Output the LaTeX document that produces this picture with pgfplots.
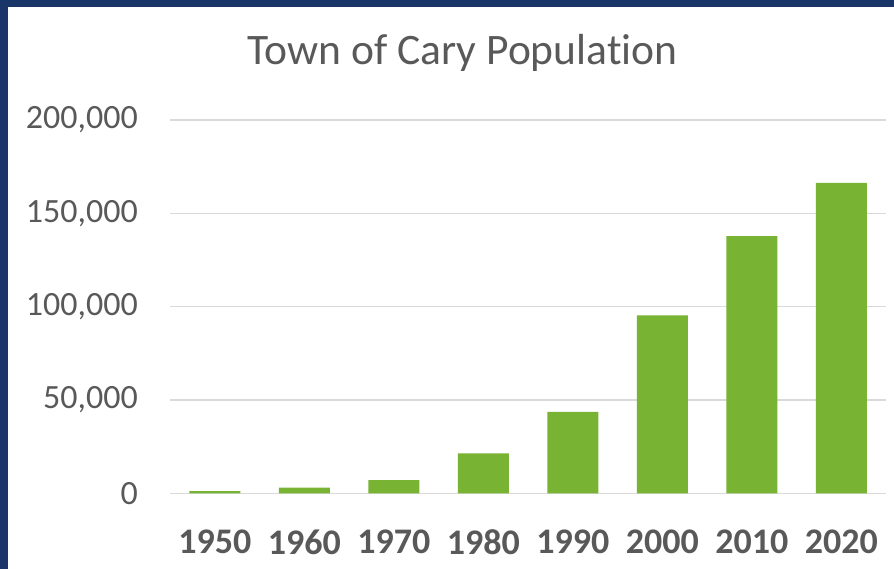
\documentclass[border=0pt]{standalone}
\usepackage{pgfplots}
\pgfplotsset{compat=1.18}
\usepackage{fontspec}
\setmainfont{Carlito}[Numbers=Lining, RawFeature={-liga;-clig;-calt;-dlig}]
\definecolor{barg}{HTML}{78B334}
\definecolor{txt}{HTML}{595959}
\definecolor{gridc}{HTML}{D9D9D9}
\definecolor{framec}{HTML}{1A3668}
\begin{document}
\begin{tikzpicture}[x=1pt,y=1pt]
\fill[framec] (0,0) rectangle (894,569);
\fill[white] (8,0) rectangle (894,562);
\path[use as bounding box] (0,0) rectangle (894,569);
\node[anchor=base, text=txt, font=\fontsize{43.5}{50}\selectfont, inner sep=0pt] at (462.5,504) {Town of Cary Population};
\begin{axis}[at={(170pt,75.7pt)}, anchor=south west, scale only axis,
  width=716pt, height=373.3pt,
  xmin=-0.5, xmax=7.5, ymin=0, ymax=200000,
  ybar, bar width=51pt,
  ytick={0,50000,100000,150000,200000},
  xtick={0,...,7},
  xticklabels={1950,1960,1970,1980,1990,2000,2010,2020},
  ymajorgrids, major grid style={draw=gridc, line width=1.3pt},
  axis line style={draw=none},
  major tick length=0pt,
  scaled y ticks=false,
  yticklabel={\pgfmathprintnumber[fixed,precision=0,1000 sep={,},assume math mode=true]{\tick}},
  yticklabel style={font=\fontsize{34}{40}\selectfont, text=txt, anchor=east, inner sep=0pt, xshift=-32pt},
  xticklabel style={font=\fontsize{36}{40}\selectfont\bfseries, text=txt, anchor=north, inner sep=0pt, yshift=-36pt},
]
\addplot[fill=barg, draw=none] coordinates {
(0,1230) (1,3000) (2,7100) (3,21400) (4,43600) (5,95300) (6,137800) (7,166300)
};
\end{axis}
\end{tikzpicture}
\end{document}
